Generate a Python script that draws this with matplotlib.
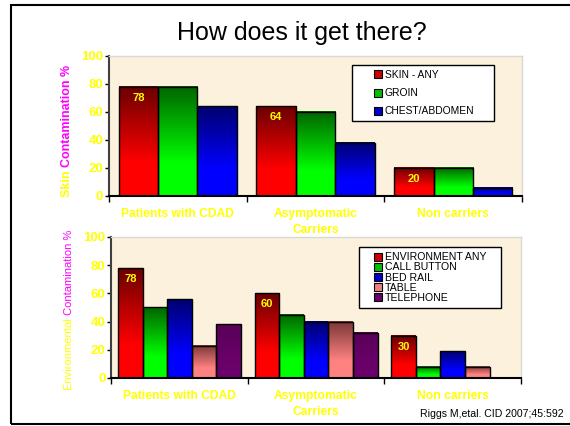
import numpy as np
import matplotlib as mpl
mpl.use('Agg')
import matplotlib.pyplot as plt
from matplotlib.colors import LinearSegmentedColormap
from matplotlib.lines import Line2D
from matplotlib.patches import Rectangle

plt.rcParams['font.family'] = ['Liberation Sans', 'DejaVu Sans']

categories = ['Patients with CDAD', 'Asymptomatic\nCarriers', 'Non carriers']

skin_labels = ['SKIN - ANY', 'GROIN', 'CHEST/ABDOMEN']
skin_values = [
    [78, 64, 20],   # skin - any
    [78, 60, 20],   # groin
    [64, 38, 6],    # chest/abdomen
]

env_labels = ['ENVIRONMENT ANY', 'CALL BUTTON', 'BED RAIL', 'TABLE', 'TELEPHONE']
env_values = [
    [78, 60, 30],
    [50, 45, 8],
    [56, 40, 19],
    [23, 40, 8],
    [38, 32, 0],
]

# (top colour, bottom colour, legend colour)
skin_colors = [('#6a0000', '#ff0000', '#cc0000'),
               ('#006400', '#00ff00', '#00c000'),
               ('#000070', '#0000ff', '#0000c8')]
env_colors = [('#6a0000', '#ff0000', '#cc0000'),
              ('#006400', '#00ff00', '#00c000'),
              ('#000070', '#0000ff', '#0000c8'),
              ('#7a3636', '#ff8282', '#f08080'),
              ('#580058', '#6a006a', '#660066')]

YELLOW = '#ffff00'
MAGENTA = '#ff00ff'
grad = np.linspace(0, 1, 256).reshape(-1, 1)


def gradient_bars(ax, x, h, w, top, bottom):
    bars = ax.bar(x, h, w, color='none', edgecolor='black', linewidth=1, zorder=3)
    cmap = LinearSegmentedColormap.from_list('g', [(0, bottom), (0.3, bottom), (1, top)])
    for b in bars:
        if b.get_height() <= 0:
            continue
        x0, y0 = b.get_x(), b.get_y()
        ax.imshow(grad, extent=(x0, x0 + b.get_width(), y0, y0 + b.get_height()),
                  origin='lower', cmap=cmap, aspect='auto', zorder=2)
    return bars


def style_axes(ax):
    ax.set_facecolor('#fbf1dc')
    ax.set_xlim(-0.5, 2.5)
    ax.set_ylim(0, 100)
    ax.set_yticks(range(0, 101, 20))
    ax.set_xticks(range(3))
    ax.set_xticklabels(categories, color=YELLOW, fontweight='bold', fontsize=8.7,
                       linespacing=1.35)
    ax.set_xticks([-0.5, 0.5, 1.5, 2.5], minor=True)
    ax.tick_params(axis='x', which='major', length=0, pad=9)
    ax.tick_params(axis='x', which='minor', length=4, width=1, direction='out')
    ax.tick_params(axis='y', length=3, width=1, pad=1, labelcolor=YELLOW, labelsize=9.5)
    for lab in ax.get_yticklabels():
        lab.set_fontweight('bold')
    ax.spines['left'].set_color('#404040')
    ax.spines['left'].set_linewidth(1.5)
    ax.spines['bottom'].set_color('black')
    ax.spines['bottom'].set_linewidth(1.5)
    for s in ('top', 'right'):
        ax.spines[s].set_color('#d8d8d8')
        ax.spines[s].set_linewidth(1)


def make_legend(ax, labels, colors, anchor, fs, spacing, hlen, hpad):
    handles = [Line2D([], [], linestyle='none', marker='s', markersize=6,
                      markerfacecolor=c[2], markeredgecolor='black', markeredgewidth=0.8)
               for c in colors]
    leg = ax.legend(handles, labels, loc='upper left', bbox_to_anchor=anchor,
                    mode='expand', fontsize=fs, labelspacing=spacing, handlelength=hlen,
                    handletextpad=hpad, borderpad=0.5, borderaxespad=0,
                    fancybox=False, framealpha=1, edgecolor='black')
    leg.get_frame().set_linewidth(1)
    leg.set_zorder(5)


fig = plt.figure(figsize=(5.7, 4.26), dpi=100)
fig.patch.set_facecolor('white')

fig.patches.append(Rectangle((0.019, 0.005), 1.0, 0.983, transform=fig.transFigure,
                             fill=False, edgecolor='black', linewidth=1.5))

fig.text(0.53, 0.922, 'How does it get there?', ha='center', va='center', fontsize=18)

# top chart: skin contamination
ax1 = fig.add_axes([0.191, 0.540, 0.725, 0.329])
x = np.arange(len(categories))
w1 = 0.286
for i, vals in enumerate(skin_values):
    top, bottom, _ = skin_colors[i]
    bars = gradient_bars(ax1, x + (i - 1) * w1, vals, w1, top, bottom)
    if i == 0:
        for b, v in zip(bars, vals):
            ax1.annotate(str(v), (b.get_x() + b.get_width() / 2, v), xytext=(0, -8),
                         textcoords='offset points', ha='center', va='center',
                         color=YELLOW, fontweight='bold', fontsize=8, zorder=4)
style_axes(ax1)
make_legend(ax1, skin_labels, skin_colors, (0.588, 0.0, 0.344, 0.936), 7.4, 0.8, 4.1, -1.4)

# bottom chart: environmental contamination
ax2 = fig.add_axes([0.195, 0.1127, 0.719, 0.331])
w2 = 0.18
for i, vals in enumerate(env_values):
    top, bottom, _ = env_colors[i]
    bars = gradient_bars(ax2, x + (i - 2) * w2, vals, w2, top, bottom)
    if i == 0:
        for b, v in zip(bars, vals):
            ax2.annotate(str(v), (b.get_x() + b.get_width() / 2, v), xytext=(0, -8),
                         textcoords='offset points', ha='center', va='center',
                         color=YELLOW, fontweight='bold', fontsize=8, zorder=4)
style_axes(ax2)
make_legend(ax2, env_labels, env_colors, (0.605, 0.0, 0.346, 0.929), 7.6, 0.02, 2.5, -0.55)

# two-coloured y labels
fig.canvas.draw()
r = fig.canvas.get_renderer()
t1 = fig.text(67 / 570, 1 - 197 / 426, 'Skin ', rotation=90, ha='center', va='bottom',
              color=YELLOW, fontweight='bold', fontsize=9)
bb = t1.get_window_extent(r)
fig.text(67 / 570, bb.y1 / fig.bbox.height, 'Contamination %', rotation=90, ha='center',
         va='bottom', color=MAGENTA, fontweight='bold', fontsize=9)

t2 = fig.text(69 / 570, 1 - 390 / 426, 'Environmental ', rotation=90, ha='center',
              va='bottom', color=YELLOW, fontsize=8)
bb = t2.get_window_extent(r)
fig.text(69 / 570, bb.y1 / fig.bbox.height, 'Contamination %', rotation=90, ha='center',
         va='bottom', color=MAGENTA, fontsize=8)

fig.text(564 / 570, 1 - 414 / 426, 'Riggs M,etal. CID 2007;45:592', ha='right',
         va='center', fontsize=7.6)

plt.savefig('out.png', dpi=100)
plt.close()
